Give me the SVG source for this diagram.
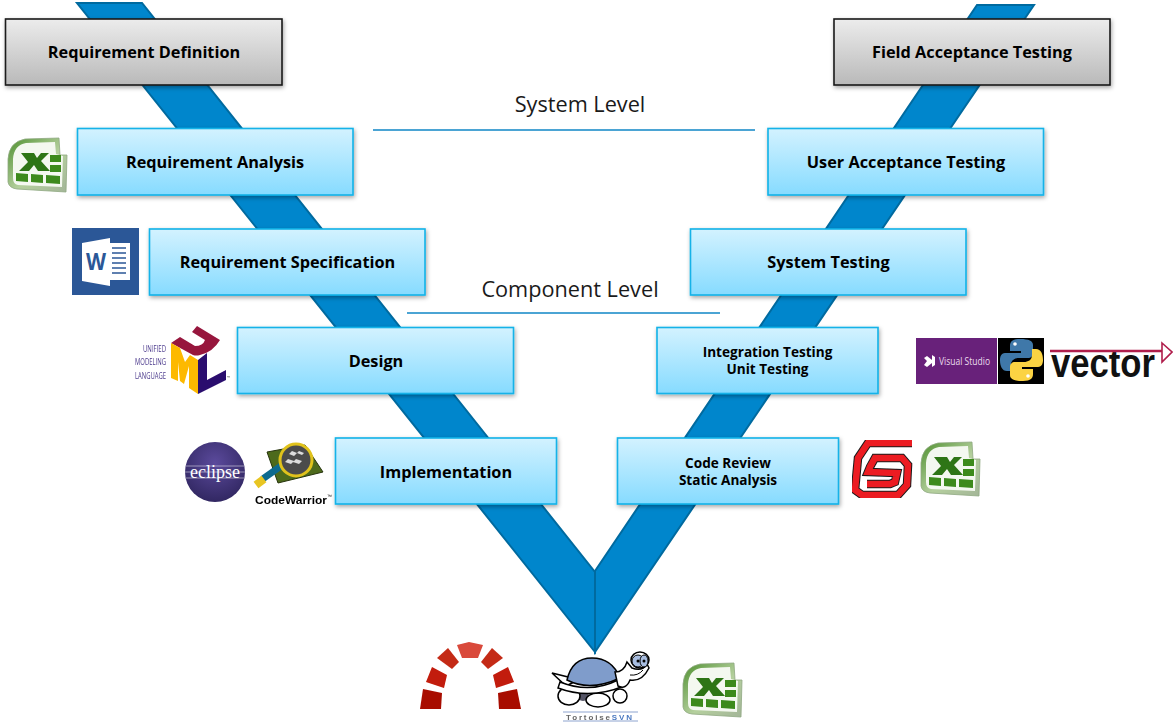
<svg xmlns="http://www.w3.org/2000/svg" xmlns:xlink="http://www.w3.org/1999/xlink" width="1173" height="722" viewBox="0 0 1173 722">
<style>
text{font-family:"Open Sans","Noto Sans","Liberation Sans",sans-serif;fill:#000}
.lbl{font-size:16.300px;font-weight:700;text-anchor:middle}
.sm{font-size:13.600px;font-weight:700;text-anchor:middle}
.lvl{font-size:21.700px;text-anchor:middle;fill:#1a1a1a}
.blue{fill:url(#gb);stroke:#12b2e8;stroke-width:1.6;filter:url(#sh)}
.gray{fill:url(#gg);stroke:#1a1a1a;stroke-width:1.6;filter:url(#sh)}
.band{fill:#0086cc;stroke:#006a9f;stroke-width:2}
.lv{stroke:#0f86c6;stroke-width:1.4;fill:none}
.cell{fill:#3c8a1e}
.ol{stroke:#000;stroke-width:1.5}
</style>
<defs>
<linearGradient id="gb" x1="0" y1="0" x2="0" y2="1"><stop offset="0" stop-color="#d3f2ff"/><stop offset="1" stop-color="#86dbff"/></linearGradient>
<linearGradient id="gg" x1="0" y1="0" x2="0" y2="1"><stop offset="0" stop-color="#ececec"/><stop offset="1" stop-color="#b9b9b9"/></linearGradient>
<linearGradient id="xl" x1="0" y1="0" x2="1" y2="1"><stop offset="0" stop-color="#4f9030"/><stop offset="0.55" stop-color="#b5d09e"/><stop offset="1" stop-color="#a3b598"/></linearGradient>
<radialGradient id="ec" cx="0.5" cy="0.35" r="0.75"><stop offset="0" stop-color="#5b4a9c"/><stop offset="1" stop-color="#2b2259"/></radialGradient>
<filter id="sh" x="-5%" y="-10%" width="110%" height="125%"><feDropShadow dx="1" dy="2" stdDeviation="2" flood-color="#000" flood-opacity="0.35"/></filter>
<filter id="soft" x="-5%" y="-5%" width="110%" height="110%"><feGaussianBlur stdDeviation="0.35"/></filter>
<g id="excel" filter="url(#soft)">
<path d="M0,21 Q1,4 17,1 L51,0 L52,17 L59,17 L58,54 L9,51 Q1,50 0,44Z" fill="url(#xl)" stroke="#8fa882" stroke-width="0.8"/>
<path d="M5,21 Q6,7 18,5 L47,4 L48,16 L55,18 L54,49 L10,47 Q5,46 5,40Z" fill="#f4f8f0"/>
<path d="M13,15 L26,15 L29,20 L33,15 L41,15 L33,23 L42,33 L30,33 L26,27 L21,33 L11,33 L20,24Z" fill="#2f7417"/>
<path class="cell" d="M42,17H53V24H42ZM42,27H53V34H42Z"/>
<path class="cell" d="M8,35L20,36V44L8,43ZM23,36L35,37V45L23,44ZM38,37L52,38V46L38,45Z"/>
</g>
<path id="spiral" d="M912,443 H868 L858,458 L855,490 L862,495 H898 L907,485 L908,465 L902,458 H875 L870,467 L868,472 L897,473 L895,482 L890,484 H867" fill="none"/>
<path id="pysnake" d="M1020,339 C1012,339 1010,342 1010,346 V351 H1021 V353 H1005 C1001,353 1000,357 1000,360 C1000,366 1002,371 1007,371 H1011 V365 C1011,360 1015,358 1019,358 H1028 C1031,358 1033,356 1033,353 V345 C1033,341 1029,339 1020,339Z"/>
</defs>

<g id="connectors">
<path class="band" d="M77,3 L142,3 L595,572 L595,652Z"/>
<path class="band" d="M977,5 L1034,5 L595,652 L595,571Z"/>
<path class="lv" d="M373,130H755"/>
<path class="lv" d="M407,313H720"/>
</g>

<text class="lvl" x="580" y="112">System Level</text>
<text class="lvl" x="570" y="297">Component Level</text>

<g id="n-req-def"><rect class="gray" x="5.500" y="19" width="276.500" height="66"/><text class="lbl" x="144" y="58">Requirement Definition</text></g>
<g id="n-req-an"><rect class="blue" x="77.500" y="128.500" width="275.500" height="66.500"/><text class="lbl" x="215" y="168">Requirement Analysis</text></g>
<g id="n-req-spec"><rect class="blue" x="149.500" y="229" width="275.500" height="66"/><text class="lbl" x="287.500" y="268">Requirement Specification</text></g>
<g id="n-design"><rect class="blue" x="237.500" y="327.500" width="276" height="66"/><text class="lbl" x="376" y="367">Design</text></g>
<g id="n-impl"><rect class="blue" x="335.500" y="438" width="221" height="66"/><text class="lbl" x="446" y="478">Implementation</text></g>
<g id="n-field"><rect class="gray" x="834" y="19" width="276" height="66"/><text class="lbl" x="972" y="58">Field Acceptance Testing</text></g>
<g id="n-uat"><rect class="blue" x="768" y="128.500" width="275.500" height="66.500"/><text class="lbl" x="906" y="168">User Acceptance Testing</text></g>
<g id="n-sys"><rect class="blue" x="690.500" y="229" width="275.500" height="66"/><text class="lbl" x="828.500" y="268">System Testing</text></g>
<g id="n-int"><rect class="blue" x="657" y="327.500" width="221" height="66"/><text class="sm" x="767.500" y="357">Integration Testing</text><text class="sm" x="767.500" y="374">Unit Testing</text></g>
<g id="n-code"><rect class="blue" x="617.500" y="438" width="221" height="66"/><text class="sm" x="728" y="468">Code Review</text><text class="sm" x="728" y="485">Static Analysis</text></g>

<g id="i-excel1"><use href="#excel" xlink:href="#excel" x="8" y="138"/></g>
<g id="i-excel2"><use href="#excel" xlink:href="#excel" x="921" y="442"/></g>
<g id="i-excel3"><use href="#excel" xlink:href="#excel" x="683" y="663"/></g>

<g id="i-word">
<rect x="72" y="228" width="67" height="67" fill="#2b5797"/>
<path d="M82,243 L110,238 L110,286 L82,281Z" fill="#fff"/>
<path d="M110,243H130V280H110Z" fill="#fff"/>
<path d="M112,248H126M112,253H126M112,258H126M112,263H126M112,268H126M112,273H126" stroke="#2b5797" stroke-width="1.5"/>
<text x="86" y="270" font-size="24" font-weight="700" textLength="20" lengthAdjust="spacingAndGlyphs" style="fill:#2b5797">W</text>
</g>

<g id="i-uml" filter="url(#soft)">
<g style="font-family:'Liberation Sans',sans-serif" font-size="9.500">
<text x="143" y="351.500" textLength="23" lengthAdjust="spacingAndGlyphs" style="fill:#4b3a8c">UNIFIED</text>
<text x="135" y="365" textLength="31" lengthAdjust="spacingAndGlyphs" style="fill:#4b3a8c">MODELING</text>
<text x="135" y="379" textLength="31" lengthAdjust="spacingAndGlyphs" style="fill:#4b3a8c">LANGUAGE</text>
</g>
<path d="M171,343 L180,337 L195,346 Q203,346 205,340 L192,332 L197,326 L220,340 Q213,352 200,355 Q196,356 193,355Z" fill="#97163e"/>
<path d="M171,343 L180,348 L185,362 L190,355 L198,360 L198,394 L189,388 L189,366 L184,384 L180,381 L178,362 L178,381 L171,378Z" fill="#fdb900"/>
<path d="M198,360 L207,353 L207,380 L226,370 L226,380 L198,394Z" fill="#2b0a6e"/>
<text x="227" y="379" font-size="4" style="fill:#444">™</text>
</g>

<g id="i-eclipse">
<circle cx="215" cy="472" r="30" fill="url(#ec)"/>
<path d="M186,466H244M185,472H245M186,478H244" stroke="#fff" stroke-width="0.8" opacity="0.6"/>
<text x="215" y="478" font-size="18" text-anchor="middle" style="font-family:'Liberation Serif',serif;fill:#fff">eclipse</text>
</g>

<g id="i-codewarrior" filter="url(#soft)">
<path d="M267,452 L305,445 L323,472 L278,483Z" fill="#4d6b1a" stroke="#26330f"/>
<path d="M264,478 L281,466" stroke="#0f6a8e" stroke-width="7" stroke-linecap="round"/>
<path d="M256,485 L264,479" stroke="#e8c520" stroke-width="8"/>
<circle cx="296" cy="460" r="16" fill="#4c4c4c" stroke="#e0c21c" stroke-width="3"/>
<path d="M292,451l5,2l-3,3l-5,-2zM299,451l5,2l-2,2l-5,-2zM288,459l6,2l-3,3l-6,-2zM296,459l6,2l-3,3l-6,-2z" fill="#dcdcdc"/>
<text x="255" y="503.500" font-size="11.500" font-weight="700" textLength="72" lengthAdjust="spacingAndGlyphs" style="font-family:'Liberation Sans',sans-serif">CodeWarrior</text>
<text x="327" y="498" font-size="5" style="font-family:'Liberation Sans',sans-serif">™</text>
</g>

<g id="i-vs">
<rect x="916" y="338" width="81" height="46" fill="#68217a"/>
<path d="M924,358 L927,356 L932,360 L932,355 L935,357 L935,365 L932,367 L932,363 L927,367 L924,365 L927,361Z" fill="#fff"/>
<text x="939" y="365" font-size="10" textLength="51" lengthAdjust="spacingAndGlyphs" style="fill:#e8dcec">Visual Studio</text>
</g>
<g id="i-python">
<rect x="998" y="338" width="46" height="46" fill="#000"/>
<use href="#pysnake" xlink:href="#pysnake" fill="#3f78a9"/>
<use href="#pysnake" xlink:href="#pysnake" fill="#fbd343" transform="rotate(180 1021.500 360)"/>
<circle cx="1015" cy="344" r="1.800" fill="#fff"/><circle cx="1028" cy="376" r="1.800" fill="#fff"/>
</g>
<g id="i-vector">
<text x="1051" y="377" font-size="40" font-weight="700" textLength="104" lengthAdjust="spacingAndGlyphs" style="font-family:'Liberation Sans',sans-serif;fill:#111">vector</text>
<path d="M1050,351H1163" stroke="#b01e4c" stroke-width="2.500"/>
<path d="M1162,343 L1172,352 L1162,362Z" fill="#fff" stroke="#b01e4c" stroke-width="1.600"/>
</g>

<g id="i-seapine" filter="url(#soft)">
<use href="#spiral" xlink:href="#spiral" stroke="#1a1a1a" stroke-width="8.500"/>
<use href="#spiral" xlink:href="#spiral" stroke="#ec1c24" stroke-width="6.500"/>
</g>

<g id="i-redmine" filter="url(#soft)">
<path d="M420,709 L423,689 L442,693 L441,709Z" fill="#a81000"/>
<path d="M426,682 L432,667 L447,675 L444,688Z" fill="#c21a08"/>
<path d="M437,658 L448,648 L459,662 L452,669Z" fill="#c42a18"/>
<path d="M457,645 L469,642 L483,645 L478,658 L462,658Z" fill="#d9483a"/>
<path d="M481,662 L492,648 L503,658 L488,669Z" fill="#c42a18"/>
<path d="M493,675 L508,667 L514,682 L496,688Z" fill="#c21a08"/>
<path d="M498,693 L517,689 L521,709 L499,709Z" fill="#a81000"/>
</g>

<g id="i-tortoise" filter="url(#soft)">
<path class="ol" d="M552,673 L568,677 L574,682 L566,686Z" fill="#fff"/>
<ellipse cx="583" cy="696" rx="6" ry="5" fill="#556"/>
<ellipse class="ol" cx="569" cy="696" rx="11" ry="9" fill="#fff"/>
<ellipse class="ol" cx="598" cy="700" rx="12" ry="7" fill="#fff"/>
<ellipse class="ol" cx="620" cy="696" rx="7" ry="7" fill="#fff"/>
<path class="ol" d="M560,682 Q590,694 618,680 L624,686 Q590,700 558,688Z" fill="#fff"/>
<path class="ol" d="M567,680 Q572,658 592,658 Q612,658 620,678 Q590,692 567,680Z" fill="#7f9ccb"/>
<path class="ol" d="M615,672 Q624,672 627,662 L632,668 Q642,672 647,664 L649,668 Q642,682 630,680 Q626,690 618,686Z" fill="#fff"/>
<ellipse class="ol" cx="640" cy="660" rx="9" ry="8" fill="#fff"/>
<ellipse cx="638" cy="661" rx="6" ry="6" fill="#a8bde0" stroke="#000"/>
<ellipse cx="644" cy="661" rx="4" ry="6" fill="#a8bde0" stroke="#000"/>
<circle cx="638" cy="661" r="1.500"/><circle cx="644" cy="661" r="1.500"/>
<path d="M630,675 Q638,676 643,670" fill="none" stroke="#000"/>
<path d="M563,712H638M563,721H638" stroke="#8ea4cf" stroke-width="1"/>
<text x="566" y="719.500" font-size="8" font-weight="700" textLength="66" style="font-family:'Liberation Sans',sans-serif;fill:#666">Tortoise<tspan style="fill:#4a78c0">SVN</tspan></text>
</g>
</svg>
